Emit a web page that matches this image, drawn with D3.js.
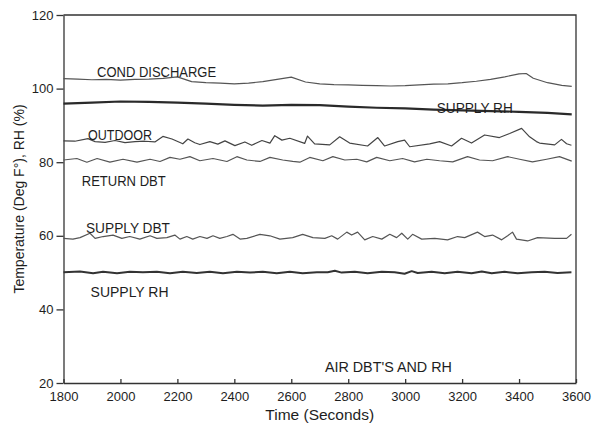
<!DOCTYPE html>
<html>
<head>
<meta charset="utf-8">
<script src="https://cdn.jsdelivr.net/npm/d3@7"></script>
<style>
  body { margin: 0; background: #fff; }
  svg text { font-family: "Liberation Sans", Arial, sans-serif; fill: #1e1e1e; }
  .axis path, .axis line { stroke: #333; stroke-width: 1.3; }
  .axis text { font-size: 13px; }
</style>
</head>
<body>
<div id="chart"></div>
<script>
// axis ticks
var xTicks = [1800, 2000, 2200, 2400, 2600, 2800, 3000, 3200, 3400, 3600];
var yTicks = [20, 40, 60, 80, 100, 120];

// COND DISCHARGE
var condT = [1800,1850,1900,1950,2000,2050,2100,2150,2200,2250,2300,2350,2400,2450,2500,2550,2600,2650,2700,2750,2800,2850,2900,2950,3000,3050,3100,3150,3200,3250,3300,3350,3400,3425,3450,3500,3550,3585];
var condV = [102.7,102.6,102.4,102.5,102.3,102.5,102.6,102.8,103.2,101.9,101.6,101.5,101.3,101.5,101.9,102.5,103.1,101.8,101.3,101.1,101.0,100.9,100.8,100.7,100.8,101.0,101.2,101.3,101.6,102.0,102.5,103.2,104.0,104.1,102.8,101.6,100.9,100.6];

// SUPPLY RH (upper trace)
var rhUpT = [1800,1900,2000,2100,2200,2300,2400,2500,2600,2700,2800,2900,3000,3100,3200,3300,3400,3500,3585];
var rhUpV = [95.9,96.2,96.5,96.4,96.2,95.9,95.6,95.4,95.6,95.5,95.1,94.8,94.6,94.3,94.1,93.9,93.7,93.4,93.0];

// OUTDOOR
var outT = [1800,1840,1886,1911,1946,1981,2016,2051,2086,2121,2149,2181,2219,2237,2261,2279,2314,2342,2367,2402,2437,2461,2497,2525,2542,2567,2595,2647,2657,2682,2735,2770,2805,2868,2904,2928,2974,2998,3016,3086,3121,3163,3198,3233,3279,3331,3367,3409,3437,3461,3472,3525,3549,3567,3584];
var outV = [85.8,85.7,86.4,85.6,85.4,85.9,85.3,85.6,85.7,85.5,87.0,86.3,85.0,86.3,85.3,84.8,85.6,84.9,85.8,84.5,85.5,84.6,85.9,85.2,87.2,86.0,86.5,85.1,87.1,85.0,84.7,86.9,85.2,84.4,86.7,84.4,85.6,86.0,84.2,85.0,85.6,84.4,86.5,85.2,87.4,86.7,87.8,89.2,86.9,85.6,85.2,84.7,86.2,85.0,84.6];

// RETURN DBT
var retT = [1800,1847,1882,1918,1963,2009,2058,2104,2139,2174,2209,2244,2279,2325,2374,2409,2444,2490,2525,2570,2605,2630,2665,2711,2746,2788,2830,2865,2900,2946,2991,3033,3076,3121,3167,3219,3261,3307,3360,3402,3447,3497,3542,3585];
var retV = [80.6,81.0,80.0,81.0,80.0,80.8,80.0,80.8,80.2,81.3,80.8,81.5,80.4,81.0,80.2,81.5,80.6,80.2,81.3,80.6,80.2,80.0,81.3,80.4,81.5,80.6,80.8,80.1,81.3,80.4,81.0,80.1,80.8,80.4,80.1,81.5,80.6,80.4,81.5,80.8,80.1,80.8,81.5,80.3];

// SUPPLY DBT
var sdbT = [1800,1833,1858,1893,1911,1939,1974,2005,2033,2068,2104,2128,2163,2191,2209,2233,2254,2279,2304,2325,2349,2374,2395,2420,2444,2490,2525,2560,2605,2640,2676,
            2718,2742,2763,2795,2812,2833,2858,2886,2918,2946,2970,2988,3009,3026,3058,3104,3149,3184,3209,3254,3279,3307,3339,3360,3377,3391,3430,3465,3525,3567,3584];
var sdbV = [59.3,59.1,59.5,60.7,59.3,59.8,60.2,59.3,59.8,59.1,60.0,59.3,59.5,60.2,59.1,59.8,59.1,59.8,59.3,60.0,59.3,59.8,60.4,59.1,59.3,60.4,60.0,59.1,59.5,60.4,59.5,
            59.3,60.0,59.1,61.0,60.2,61.0,58.9,59.8,59.1,60.4,59.5,60.7,59.1,60.4,59.1,59.3,58.9,59.8,59.5,61.0,59.8,60.2,58.9,60.0,61.0,59.1,58.6,59.5,59.3,59.3,60.4];

// SUPPLY RH (lower trace)
var rhLoT = [1800,1858,1904,1939,1988,2033,2079,2128,2174,2219,2268,2314,2360,2409,2455,2500,2549,2595,2640,2690,2728,2753,2777,2823,2868,2918,2963,2998,3023,3044,3093,3139,3184,3233,3269,3304,3349,3395,3444,3490,3535,3584];
var rhLoV = [50.1,50.3,49.8,50.2,49.8,50.2,50.1,50.2,49.8,50.2,49.9,50.2,49.8,50.2,50.0,50.2,49.8,50.2,49.8,50.1,50.1,50.5,50.0,50.2,49.8,50.2,50.1,49.7,50.4,49.9,50.2,49.8,50.2,49.8,50.3,49.8,50.2,49.8,50.1,50.2,49.9,50.1];

// in-plot labels (text, time, value at baseline)
var labelText = ["COND DISCHARGE", "SUPPLY RH", "OUTDOOR", "RETURN DBT", "SUPPLY DBT", "SUPPLY RH", "AIR DBT'S AND RH"];
var labelT = [1918, 3111, 1886, 1864, 1879, 1895, 2718];
var labelV = [103.15, 93.5, 85.9, 73.4, 60.8, 43.5, 23.1];

var width = 592, height = 431;
var margin = {left: 63.5, right: 16, top: 15, bottom: 48};

var svg = d3.select("#chart").append("svg")
  .attr("width", width)
  .attr("height", height);

var x = d3.scaleLinear().domain([1800, 3600]).range([margin.left, width - margin.right]);
var y = d3.scaleLinear().domain([20, 120]).range([height - margin.bottom, margin.top]);

// frame (top + right)
svg.append("path")
  .attr("d", "M" + x(1800) + "," + y(120) + "H" + x(3600) + "V" + y(20))
  .attr("fill", "none")
  .attr("stroke", "#333")
  .attr("stroke-width", 1.3);

svg.append("g")
  .attr("class", "axis")
  .attr("transform", "translate(0," + y(20) + ")")
  .call(d3.axisBottom(x).tickValues(xTicks).tickFormat(d3.format("d"))
    .tickSizeInner(-4).tickSizeOuter(0).tickPadding(9));

svg.append("g")
  .attr("class", "axis")
  .attr("transform", "translate(" + x(1800) + ",0)")
  .call(d3.axisLeft(y).tickValues(yTicks).tickFormat(d3.format("d"))
    .tickSizeInner(7).tickSizeOuter(0).tickPadding(3));

function series(ts, vs) {
  return ts.map(function (t, i) { return {t: t, v: vs[i]}; });
}

var line = d3.line()
  .x(function (d) { return x(d.t); })
  .y(function (d) { return y(d.v); });

var traces = [
  {data: series(condT, condV), w: 1.2, c: "#555"},
  {data: series(rhUpT, rhUpV), w: 2.2, c: "#2a2a2a"},
  {data: series(outT, outV), w: 1.2, c: "#444"},
  {data: series(retT, retV), w: 1.2, c: "#555"},
  {data: series(sdbT, sdbV), w: 1.2, c: "#555"},
  {data: series(rhLoT, rhLoV), w: 2.0, c: "#333"}
];

svg.selectAll("path.trace")
  .data(traces)
  .enter().append("path")
  .attr("class", "trace")
  .attr("fill", "none")
  .attr("stroke", function (d) { return d.c; })
  .attr("stroke-width", function (d) { return d.w; })
  .attr("stroke-linejoin", "round")
  .attr("d", function (d) { return line(d.data); });

// label widths in px, to mimic the narrow plotter lettering
var labelW = [119, 76, 64, 84, 84, 78, 127];
svg.selectAll("text.lbl")
  .data(labelText)
  .enter().append("text")
  .attr("class", "lbl")
  .attr("x", function (d, i) { return x(labelT[i]); })
  .attr("y", function (d, i) { return y(labelV[i]); })
  .attr("font-size", 15)
  .attr("textLength", function (d, i) { return labelW[i]; })
  .attr("lengthAdjust", "spacingAndGlyphs")
  .text(function (d) { return d; });

// axis titles
svg.append("text")
  .attr("x", (x(1800) + x(3600)) / 2)
  .attr("y", 420)
  .attr("text-anchor", "middle")
  .attr("font-size", 15.5)
  .text("Time (Seconds)");

svg.append("text")
  .attr("transform", "translate(24," + (y(20) + y(120)) / 2 + ") rotate(-90)")
  .attr("text-anchor", "middle")
  .attr("font-size", 14)
  .text("Temperature (Deg F\u00b0),  RH (%)");
</script>
</body>
</html>
